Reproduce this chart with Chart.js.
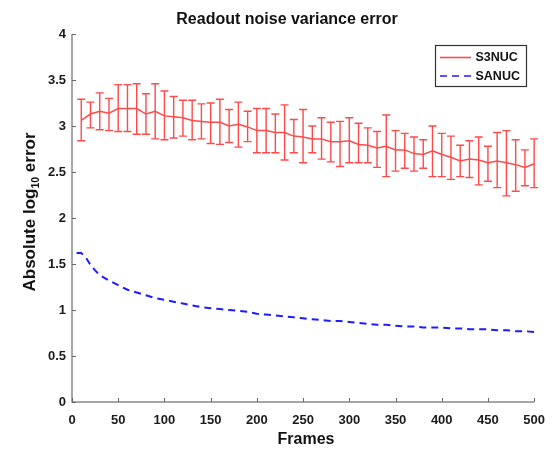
<!DOCTYPE html>
<html><head><meta charset="utf-8">
<script src="https://cdn.jsdelivr.net/npm/chart.js@4"></script>
<style>html,body{margin:0;padding:0;background:#fff}#wrap{width:556px;height:449px}</style>
</head><body><div id="wrap"><canvas id="c" width="556" height="449"></canvas></div>
<script>
const frames = [10,20,30,40,50,60,70,80,90,100,110,120,130,140,150,160,170,180,190,200,210,220,230,240,250,260,270,280,290,300,310,320,330,340,350,360,370,380,390,400,410,420,430,440,450,460,470,480,490,500];
const s3nucMean = [3.06,3.13,3.16,3.14,3.19,3.19,3.19,3.13,3.16,3.11, 3.10,3.09,3.06,3.05,3.04,3.04,3.00,3.02,2.99,2.95, 2.95,2.93,2.93,2.89,2.88,2.86,2.86,2.83,2.83,2.84, 2.80,2.79,2.76,2.78,2.74,2.74,2.70,2.69,2.73,2.69, 2.66,2.62,2.64,2.63,2.60,2.62,2.60,2.58,2.55,2.59];
const s3nucUpper = [3.29,3.26,3.36,3.30,3.45,3.45,3.46,3.35,3.46,3.38, 3.32,3.28,3.28,3.24,3.25,3.29,3.18,3.26,3.16,3.19, 3.19,3.13,3.23,3.07,3.18,3.00,3.09,3.04,3.05,3.09, 3.03,2.98,2.94,3.12,2.95,2.92,2.88,2.85,3.00,2.92, 2.89,2.79,2.84,2.88,2.78,2.93,2.95,2.85,2.74,2.86];
const s3nucLower = [2.84,2.98,2.96,2.95,2.94,2.94,2.91,2.91,2.86,2.85, 2.87,2.89,2.85,2.86,2.81,2.80,2.82,2.77,2.83,2.71, 2.71,2.71,2.63,2.71,2.60,2.71,2.64,2.61,2.56,2.60, 2.60,2.60,2.55,2.45,2.51,2.54,2.51,2.54,2.45,2.45, 2.42,2.45,2.44,2.36,2.40,2.33,2.24,2.29,2.35,2.33];
const sanucFrames = [5,10,15,20,25,30,40,50,60,70,80,90,100,110,120,130,140,150,160,170,180,190,200,210,220,230,240,250,260,270,280,290,300,310,320,330,340,350,360,370,380,390,400,410,420,430,440,450,460,470,480,490,500];
const sanucMean = [1.62,1.62,1.57,1.49,1.43,1.38,1.32,1.27,1.22,1.19,1.16,1.13,1.11,1.09,1.07,1.05,1.03,1.02,1.01,1.00,0.99,0.98,0.96,0.95,0.94,0.93,0.92,0.91,0.90,0.89,0.88,0.88,0.87,0.86,0.85,0.84,0.84,0.83,0.82,0.82,0.81,0.81,0.81,0.80,0.80,0.79,0.79,0.79,0.78,0.78,0.77,0.77,0.76];
const xTicks = [0,50,100,150,200,250,300,350,400,450,500];
const yTicks = [0,0.5,1,1.5,2,2.5,3,3.5,4];
const titleText = 'Readout noise variance error';
const xTitle = 'Frames';
const yTitleParts = ['Absolute log', '10', ' error'];

const RED = '#ff4a4a';
const BLUE = '#1c1cff';
const AXIS = '#8a8a8a';
const FONT = '"Liberation Sans", Arial, Helvetica, sans-serif';

const errorBars = {
  id: 'errorBars',
  afterDatasetsDraw(chart) {
    const {ctx, scales: {x, y}} = chart;
    ctx.save();
    ctx.strokeStyle = RED;
    ctx.lineWidth = 1.4;
    for (let i = 0; i < frames.length; i++) {
      const px = x.getPixelForValue(frames[i]);
      const yl = y.getPixelForValue(s3nucLower[i]);
      const yh = y.getPixelForValue(s3nucUpper[i]);
      ctx.beginPath();
      ctx.moveTo(px, yl); ctx.lineTo(px, yh);
      ctx.moveTo(px - 4, yl); ctx.lineTo(px + 4, yl);
      ctx.moveTo(px - 4, yh); ctx.lineTo(px + 4, yh);
      ctx.stroke();
    }
    ctx.restore();
  }
};

const decorations = {
  id: 'decorations',
  afterDraw(chart) {
    const {ctx, chartArea: a, scales: {x, y}} = chart;
    ctx.save();
    ctx.strokeStyle = AXIS;
    ctx.lineWidth = 1.5;
    ctx.beginPath();
    ctx.moveTo(a.left, y.getPixelForValue(4));
    ctx.lineTo(a.left, a.bottom);
    ctx.lineTo(x.getPixelForValue(500), a.bottom);
    ctx.stroke();
    ctx.lineWidth = 1;
    ctx.strokeStyle = '#666';
    ctx.beginPath();
    yTicks.forEach(v => { const py = Math.round(y.getPixelForValue(v)) + 0.5; ctx.moveTo(a.left, py); ctx.lineTo(a.left + 4, py); });
    xTicks.forEach(v => { const px = Math.round(x.getPixelForValue(v)) + 0.5; ctx.moveTo(px, a.bottom); ctx.lineTo(px, a.bottom - 4); });
    ctx.stroke();

    ctx.fillStyle = '#111';
    ctx.textAlign = 'center';
    ctx.textBaseline = 'middle';
    ctx.font = 'bold 16px ' + FONT;
    ctx.fillText(titleText, 287, 20);
    ctx.fillText(xTitle, 306, 440);

    ctx.save();
    ctx.translate(29, 212);
    ctx.rotate(-Math.PI / 2);
    const big = 'bold 17px ' + FONT, small = 'bold 10.5px ' + FONT;
    ctx.font = big; const w1 = ctx.measureText(yTitleParts[0]).width; const w3 = ctx.measureText(yTitleParts[2]).width;
    ctx.font = small; const w2 = ctx.measureText(yTitleParts[1]).width;
    let sx = -(w1 + w2 + w3) / 2;
    ctx.textAlign = 'left';
    ctx.textBaseline = 'alphabetic';
    ctx.font = big; ctx.fillText(yTitleParts[0], sx, 6); sx += w1;
    ctx.font = small; ctx.fillText(yTitleParts[1], sx, 9.5); sx += w2;
    ctx.font = big; ctx.fillText(yTitleParts[2], sx, 6);
    ctx.restore();

    const lx = 435, ly = 45, lw = 91, lh = 41;
    ctx.fillStyle = '#fff';
    ctx.fillRect(lx, ly, lw, lh);
    ctx.strokeStyle = '#333';
    ctx.lineWidth = 1.2;
    ctx.strokeRect(lx + 0.5, ly + 0.5, lw, lh);
    const ds = chart.data.datasets;
    const rows = [57.5, 76];
    ds.forEach((d, i) => {
      ctx.strokeStyle = d.borderColor;
      ctx.lineWidth = 1.6;
      ctx.setLineDash(d.borderDash || []);
      ctx.beginPath(); ctx.moveTo(440, rows[i]); ctx.lineTo(471, rows[i]); ctx.stroke();
      ctx.setLineDash([]);
      ctx.fillStyle = '#111';
      ctx.font = 'bold 12.5px ' + FONT;
      ctx.textAlign = 'left';
      ctx.textBaseline = 'middle';
      ctx.fillText(d.label, 475.5, rows[i] + 0.5);
    });
    ctx.restore();
  }
};

new Chart(document.getElementById('c'), {
  type: 'line',
  data: {
    datasets: [
      { label: 'S3NUC', data: frames.map((f, i) => ({x: f, y: s3nucMean[i]})), borderColor: RED, borderWidth: 1.5, pointRadius: 0, tension: 0, fill: false },
      { label: 'SANUC', data: sanucFrames.map((f, i) => ({x: f, y: sanucMean[i]})), borderColor: BLUE, borderWidth: 2, borderDash: [7, 5], pointRadius: 0, tension: 0, fill: false }
    ]
  },
  options: {
    responsive: false,
    animation: false,
    devicePixelRatio: 1,
    layout: { padding: { top: 34, right: 16, left: 0, bottom: 0 } },
    plugins: { legend: { display: false }, title: { display: false }, tooltip: { enabled: false } },
    scales: {
      x: {
        type: 'linear', min: 0, max: 500,
        afterBuildTicks: s => { s.ticks = xTicks.map(v => ({value: v})); },
        afterFit: s => { s.height = 47; },
        grid: { display: false, drawTicks: false },
        border: { display: false },
        ticks: { font: { family: FONT, size: 13, weight: 'bold' }, color: '#1a1a1a', padding: 11, maxRotation: 0, autoSkip: false, callback: v => String(v) }
      },
      y: {
        type: 'linear', min: 0, max: 4,
        afterBuildTicks: s => { s.ticks = yTicks.map(v => ({value: v})); },
        afterFit: s => { s.width = 72; },
        grid: { display: false, drawTicks: false },
        border: { display: false },
        ticks: { font: { family: FONT, size: 13, weight: 'bold' }, color: '#1a1a1a', padding: 6, autoSkip: false, callback: v => String(v) }
      }
    }
  },
  plugins: [errorBars, decorations]
});
</script></body></html>
